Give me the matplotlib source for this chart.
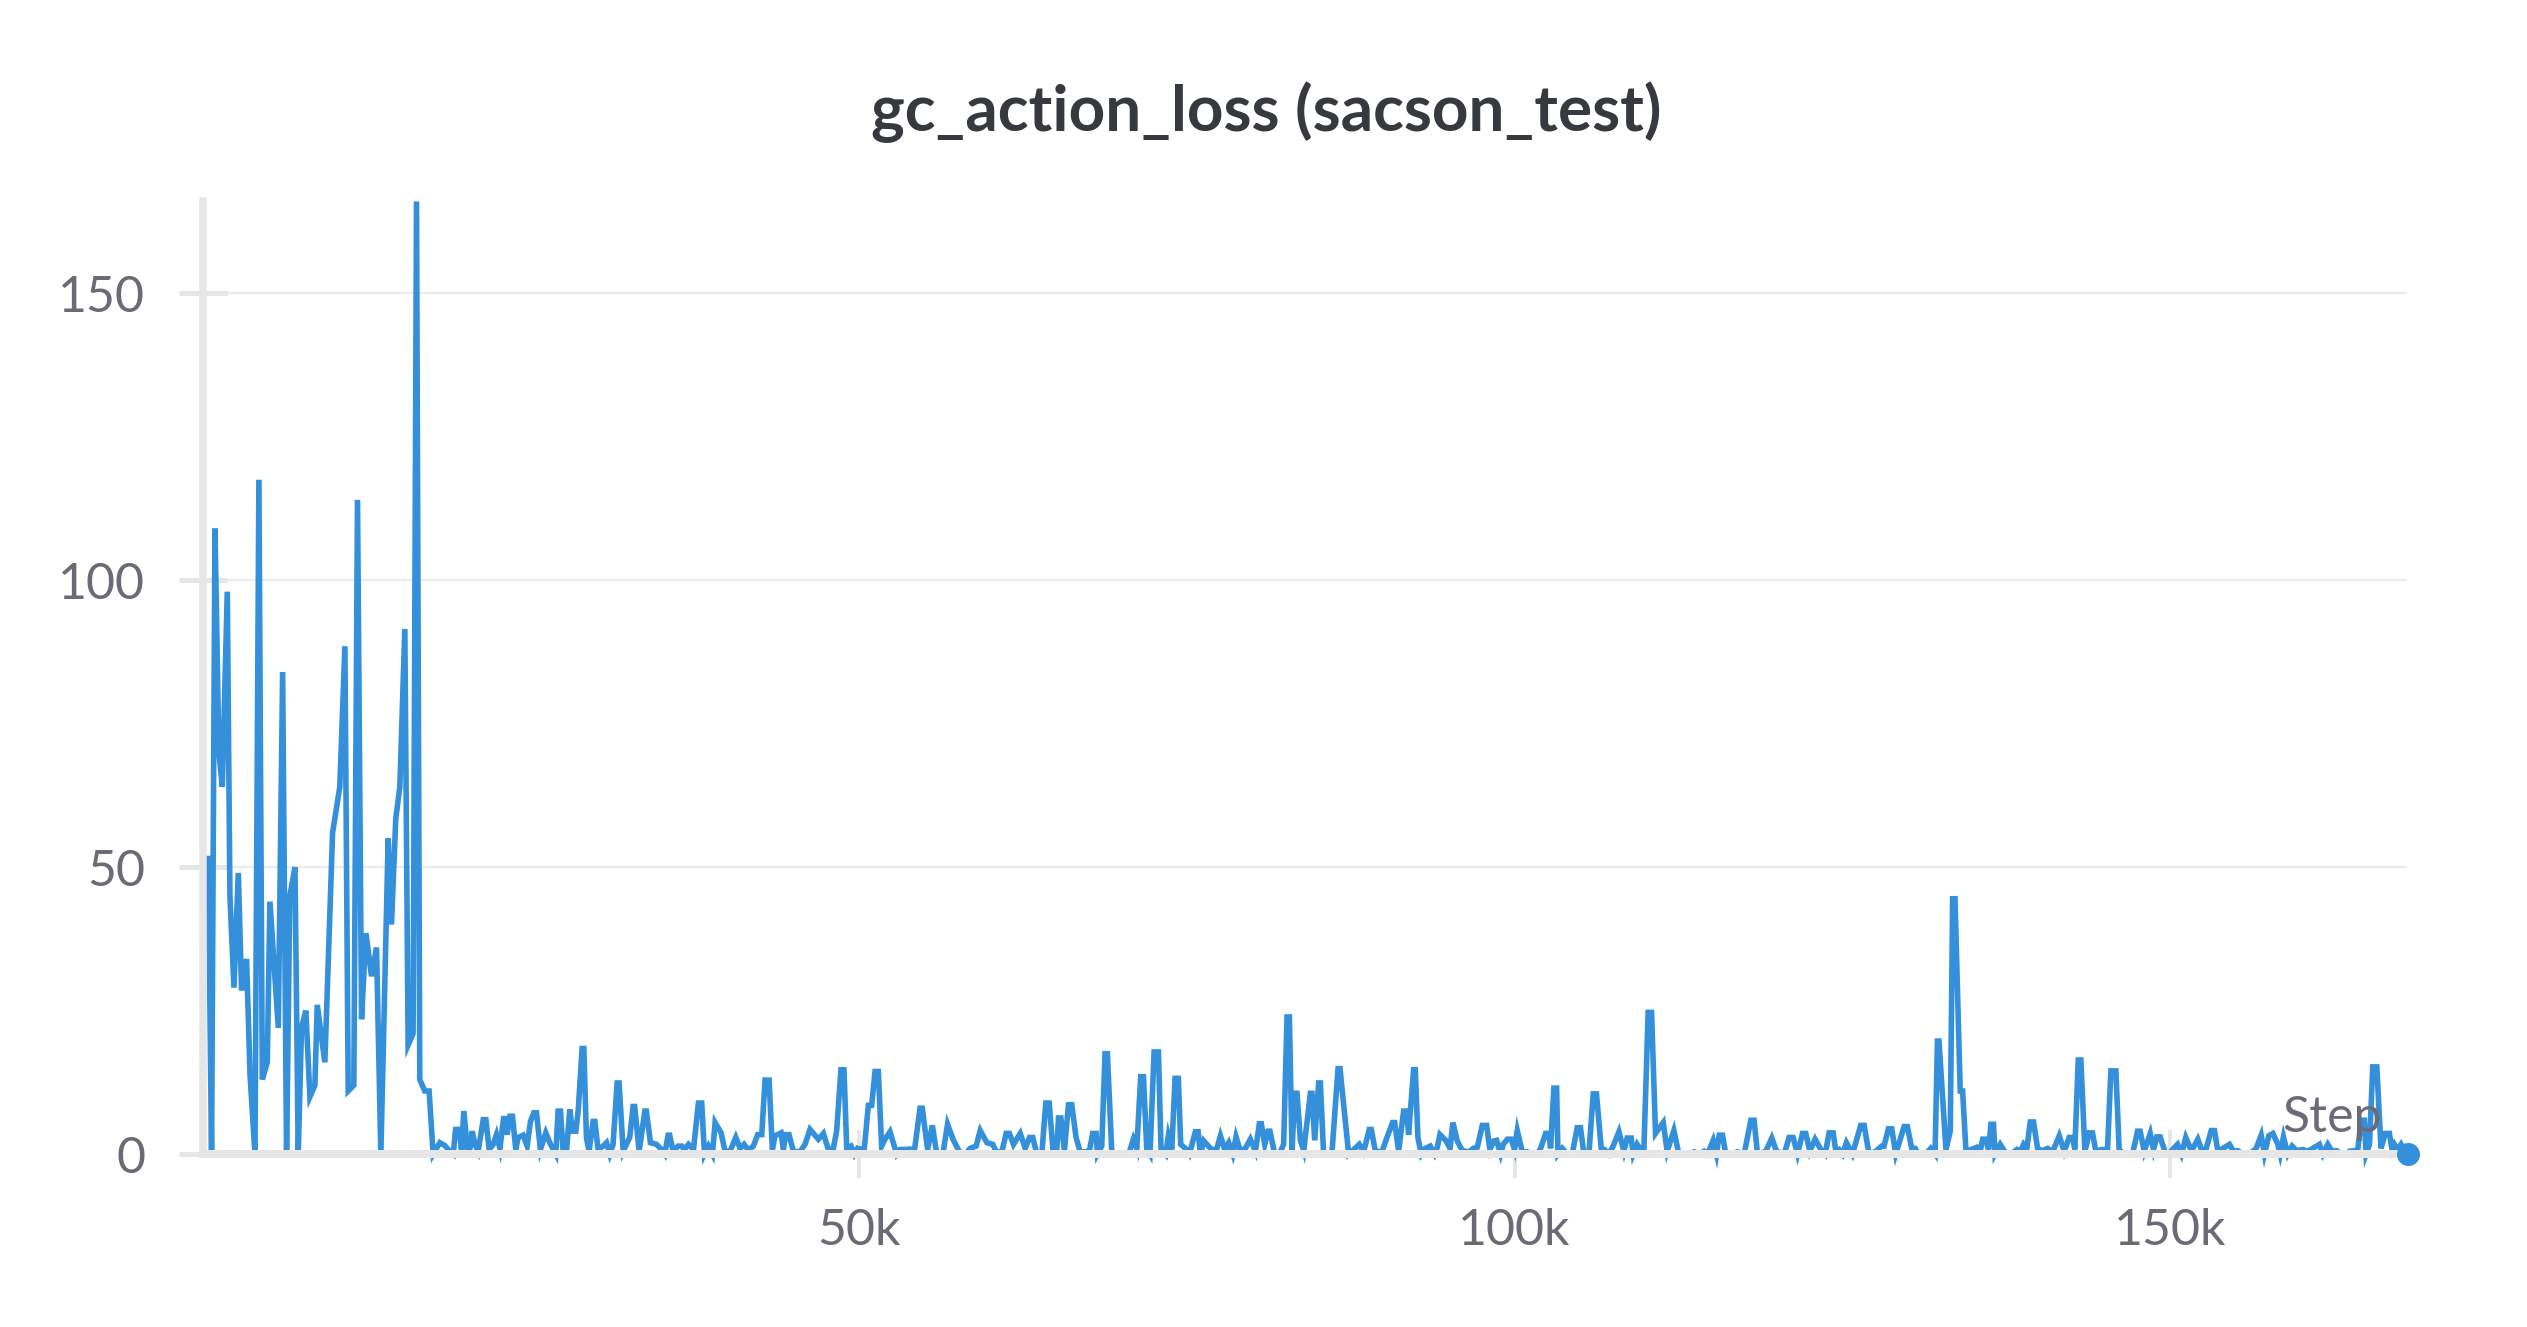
import matplotlib
matplotlib.use("Agg")
import matplotlib.pyplot as plt
from matplotlib.ticker import FuncFormatter, FixedLocator

# ---------------- data (step in thousands, loss value) ----------------
step_k = [
    0.38, 0.63, 0.89, 1.19, 1.45, 1.83, 2.03, 2.34, 2.67, 2.92, 3.30, 3.56, 3.94, 4.24, 4.50,
    4.88, 5.08, 5.72, 6.05, 6.35, 6.60, 6.99, 7.24, 7.49, 7.82, 8.13, 8.51, 8.69, 9.27, 9.86,
    10.41, 10.80, 11.05, 11.48, 11.76, 12.07, 12.40, 12.83, 13.21, 13.54, 14.10, 14.35, 14.68,
    14.99, 15.37, 15.62, 16.00, 16.26, 16.51, 16.89, 17.22, 17.53,
    18.04, 18.42, 18.80, 19.06, 19.24, 19.52, 19.69, 19.87, 20.13, 20.33, 20.51, 20.71, 20.96,
    21.35, 21.55, 21.80, 22.11, 22.36, 22.62, 22.92, 23.17, 23.38, 23.58, 23.83, 24.01, 24.39,
    24.70, 24.95, 25.21, 25.41, 25.71, 26.12, 26.48, 26.88, 27.06, 27.24, 27.44, 27.70, 27.95,
    28.15, 28.41, 28.59, 28.89, 29.02, 29.22, 29.42, 29.73, 29.86, 30.11, 30.49, 30.75, 31.00,
    31.25, 31.56, 31.71, 32.02, 32.52, 32.78, 32.90, 33.24, 33.67, 33.79, 34.10, 34.56, 34.94,
    35.19, 35.45, 35.57, 35.83, 36.21,
    36.49, 36.69, 37.00, 37.38, 37.76, 38.01, 38.22, 38.52, 38.83, 39.03, 39.49, 39.79, 40.17,
    40.61, 40.94, 41.24, 41.57, 41.95, 42.28, 42.59, 42.84, 43.15, 43.40, 43.60, 44.06, 44.24,
    44.42, 44.67, 45.00, 45.51, 45.89, 46.27, 46.91, 47.29, 47.67, 48.05, 48.30, 48.63, 48.86,
    49.07, 49.40, 49.65, 49.90, 50.21, 50.41, 50.72, 50.97, 51.23, 51.48, 51.73, 51.99, 52.37,
    52.88, 53.13, 53.51, 53.89, 54.22, 54.66, 54.83, 55.24, 55.60,
    55.94, 56.40, 56.76, 57.21, 57.67, 58.10, 58.48, 58.94, 59.25, 59.76, 60.21, 60.47, 60.90,
    61.23, 61.48, 61.79, 62.30, 62.68, 63.01, 63.26, 63.57, 63.95, 64.25, 64.51, 64.79, 65.09,
    65.22, 65.40, 65.67, 65.98, 66.23, 66.56, 66.87, 67.25, 67.58, 67.83, 68.09, 68.19, 68.52,
    68.77, 68.95, 69.28, 69.66, 70.17, 70.63, 70.93, 71.19, 71.49, 71.70, 71.95, 72.20, 72.51,
    72.84, 73.04, 73.40, 73.60, 73.86, 74.11, 74.36, 74.54, 74.90,
    75.20, 75.66, 75.87, 76.04, 76.30, 76.81, 77.24, 77.57, 77.90, 78.20, 78.51, 78.76, 79.09,
    79.47, 79.85, 80.24, 80.54, 80.69, 80.95, 81.20, 81.35, 81.71, 82.06, 82.39, 82.65, 82.83,
    83.03, 83.23, 83.41, 83.67, 83.92, 84.43, 84.55, 84.76, 85.06, 85.19, 85.44, 85.82, 86.08,
    86.54, 86.69, 87.04, 87.35, 87.73, 88.16, 88.49, 88.92, 89.08, 89.38, 89.89, 90.27, 90.70,
    90.86, 91.16, 91.54, 91.79, 91.92, 92.30, 92.43, 92.63, 92.89, 93.19, 93.57, 93.90,
    94.11, 94.31, 94.75, 95.08, 95.30, 95.63, 96.02, 96.52, 96.85, 97.16, 97.54, 97.87, 98.12,
    98.43, 98.63, 98.94, 99.14, 99.45, 99.75, 100.00, 100.21, 100.59, 100.97, 101.35, 101.73,
    101.99, 102.37, 102.62, 102.75, 103.00, 103.21, 103.31, 103.64, 104.02, 104.40, 104.78,
    105.03, 105.29, 105.67, 106.00, 106.25, 106.61, 106.86, 107.19, 107.52, 107.96, 108.34,
    108.59, 108.90, 109.05, 109.35, 109.61, 109.86, 110.19, 110.45, 110.75, 111.34, 111.64,
    112.15, 112.53, 112.91,
    113.32, 113.70, 114.08, 114.46, 114.72, 115.15, 115.40, 115.61, 115.86, 116.11, 116.50,
    117.00, 117.51, 118.02, 118.27, 118.53, 119.16, 119.62, 119.98, 120.56, 120.94, 121.25,
    121.58, 121.96, 122.21, 122.52, 122.92, 123.36, 123.69, 123.99, 124.30, 124.50, 124.75,
    125.01, 125.31, 125.77, 126.40, 126.66, 127.04, 127.55, 128.00, 128.18, 128.51, 128.77,
    129.07, 129.71, 129.96, 130.29, 130.55, 130.80, 131.36, 131.74, 132.07, 132.25, 132.37,
    132.90, 133.23, 133.41, 133.59, 133.99, 134.17, 134.43, 134.81, 135.26, 135.52, 135.70,
    135.95, 136.15, 136.33, 136.53, 136.64, 137.04, 137.40, 137.86, 138.31, 138.57, 138.82,
    139.07, 139.33, 139.58, 139.89, 140.27, 140.65, 141.03, 141.54, 141.92, 142.30, 142.56,
    142.73, 142.99, 143.19, 143.50, 143.83, 144.08, 144.33, 144.77, 145.22, 145.48, 145.86,
    146.11, 146.49, 147.13, 147.51, 147.71, 148.02, 148.48, 148.73, 148.98, 149.24, 149.59,
    149.85, 150.18, 150.56, 150.86, 151.19, 151.58,
    151.73, 152.11, 152.44, 152.75, 153.13, 153.38, 153.64, 154.02, 154.52, 154.83, 155.16,
    155.54, 156.05, 156.56, 156.94, 157.19, 157.52, 157.83, 158.21, 158.39, 158.64, 158.97,
    159.30, 159.66, 160.11, 160.50, 160.88, 161.38, 161.64, 162.02, 162.35, 162.71, 163.04,
    163.42, 163.67, 164.05, 164.31, 164.56, 164.81, 164.94, 165.20, 165.45, 165.76, 166.08,
    166.41, 166.72, 166.92, 167.10, 167.35, 167.61, 167.86, 168.12,
]

gc_action_loss = [
    51.5, 0, 109, 70, 64, 98, 45, 29, 49, 28.5, 34, 14, 0, 117.5, 13,
    16, 44, 22, 84, 0, 45, 50, 0, 22, 25, 10, 12, 26, 16, 56,
    64, 88.5, 11, 12, 114, 23.5, 38.5, 31, 36, 0, 55, 40, 58.5,
    64, 91.5, 19, 21, 166, 13, 11, 11, 0,
    2, 1.5, 0.5, 0, 4.3, 4.3, 0.8, 7.5, 1, 1, 4, 1.7, 0.5,
    6, 6, 0.8, 1.7, 3.4, 1, 6.6, 3.4, 6.6, 6.6, 0.8, 2.9, 3.3,
    1.4, 5.7, 7.2, 7.2, 0.8, 3.7, 1.7, 0, 7.5, 7.5, 0.5, 0.5, 7.8,
    4, 4, 7.5, 18.4, 18.4, 2.9, 0.5, 5.7, 5.7, 0.8, 1.4, 2, 0,
    1.7, 12.4, 12.4, 0.5, 2.9, 8.3, 8.3, 0.5, 7.5, 7.5, 2, 1.7, 0.8,
    0, 3.3, 3.3, 0.5, 1.4,
    1.4, 0.8, 1.7, 0.8, 8.9, 8.9, 0, 1.4, 0, 5.5, 3.7, 0.5, 0.5,
    2.9, 1, 1.7, 0.7, 1.4, 3.4, 3.4, 12.9, 12.9, 0.8, 3.2, 3.7, 0.8,
    3.4, 3.4, 0.5, 0.4, 1.7, 4.3, 2.6, 3.6, 0.8, 1, 4, 14.7, 14.7,
    1, 1.4, 0, 1, 0.8, 1, 8.5, 8.5, 14.4, 14.4, 1.4, 2.6, 3.9,
    0, 0.8, 0.8, 0.9, 0.4, 8, 8, 0.8, 5,
    0, 0, 5.2, 2.4, 0.4, 0, 1, 1.4, 4.1, 2, 1.7, 0.4, 0.4,
    3.6, 3.6, 1.7, 3.6, 1, 2.9, 2.9, 0, 0, 8.9, 8.9, 1, 0.5,
    6.3, 6.3, 0.6, 8.6, 8.6, 2.9, 0.4, 0.4, 0.6, 3.6, 3.6, 0, 1.4,
    17.5, 17.5, 0.5, 0, 0, 0.4, 2.6, 1, 13.5, 13.5, 1, 0, 17.8,
    17.8, 1, 0, 3.2, 0.8, 13.2, 13.2, 1.7, 1,
    0, 3.9, 3.9, 0, 2.3, 1, 0.5, 3.2, 0.8, 2, 0, 3, 0.5,
    1, 2.6, 0.5, 5.3, 5.3, 1.7, 4, 4, 0, 0, 1.7, 23.9, 23.9,
    0.4, 10.6, 10.6, 2.4, 0.6, 10.6, 10.6, 2.4, 12.4, 12.4, 0, 0, 0.4,
    14.9, 14.9, 7, 0, 0.8, 1.7, 0.4, 4.3, 4.3, 0.5, 0.4, 2.9, 5.5,
    5.5, 0.5, 7.5, 7.5, 3.4, 14.7, 14.7, 2.9, 0, 1, 1.4, 0,
    1.2, 3.4, 2.4, 1, 5.5, 2.3, 0.6, 0.4, 1, 1.2, 5, 5, 0.8,
    2.3, 2.4, 0, 1.7, 2.6, 2.6, 0.8, 4.1, 0.4, 0.4, 0, 0,
    1, 3.6, 3.6, 1, 11.5, 11.5, 0, 1, 0, 0, 4.6,
    4.6, 0, 0, 10.5, 10.5, 1, 0.8, 0, 1.4, 3.9, 0.5,
    2.8, 2.8, 0, 1.7, 0.8, 0.5, 24.7, 24.7, 3.6, 5.5, 0.5,
    4.1, 0, 0,
    0, 0.4, 0, 0.5, 0, 2.4, 0, 3.3, 3.3, 0, 0,
    0.4, 0, 5.9, 5.9, 0, 0.5, 2.8, 0.5, 0, 2.9, 2.9,
    0, 3.6, 3.6, 0.5, 2.6, 0.8, 0, 3.7, 3.7, 0.5, 0.8,
    0, 2, 0, 5, 5, 0, 0.5, 1.4, 1.4, 4.4, 4.4,
    0, 4.8, 4.8, 1, 1, 0, 0, 1, 0, 19.7, 19.7,
    0.8, 4, 44.5, 44.5, 11, 11, 0.5, 0.8, 1.2, 0.5, 2.6,
    2.6, 0.8, 5.2, 5.2, 0, 1.7, 0.4, 0, 0.8, 0.4, 1.7,
    1, 5.6, 5.6, 1, 0.6, 1, 0.4, 3.2, 0.5, 2.9, 2.9,
    0.8, 16.4, 16.4, 0.5, 3.7, 3.7, 0.5, 0.8, 0.8, 14.5, 14.5,
    0.8, 0, 0, 4, 4, 0.5, 3.6, 0.8, 3, 3, 0.5,
    0, 0.8, 1.7, 0, 2.9, 0.8,
    1, 2.6, 0.5, 1, 4.1, 4.1, 0.5, 1, 1.7, 0.5, 0.6,
    0, 0, 1, 3.3, 0, 3.2, 3.6, 1.7, 0, 3, 0,
    1.4, 0.6, 0.8, 0.5, 1, 1.7, 0, 1.7, 0.5, 0.6, 0,
    0, 0.5, 0.6, 0.8, 5.9, 5.9, 0, 1.7, 15.2, 15.2, 1,
    3.6, 3.6, 0.8, 1.7, 0.8, 1.7, 0.6, 0,
]

y_ticks = [0, 50, 100, 150]
x_ticks_k = [50, 100, 150]
title_text = "gc_action_loss (sacson_test)"
x_label_text = "Step"

steps = [s * 1000 for s in step_k]

# ---------------- styling ----------------
PX = 0.72  # points per pixel at dpi=100
LINE_COLOR = "#3590db"
AXIS_GREY = "#e6e6e6"
GRID_GREY = "#ececec"
TEXT_GREY = "#6b6b77"
TITLE_COLOR = "#363a3e"
FONT = ["Lato", "DejaVu Sans"]
LABEL_PX = 50

plt.rcParams["font.family"] = FONT

fig = plt.figure(figsize=(25.27, 13.27), dpi=100)
ax = fig.add_axes([0.08045, 0.1173, 0.8720, 0.7309])

ax.plot(steps, gc_action_loss, color=LINE_COLOR, lw=5.6 * PX,
        solid_joinstyle="miter", zorder=2)
ax.plot([steps[-1]], [gc_action_loss[-1]], "o", color=LINE_COLOR,
        ms=23 * PX, mew=0, clip_on=False, zorder=4)

ax.set_xlim(0, 168050)
ax.set_ylim(-3, 166)

for side in ("top", "right"):
    ax.spines[side].set_visible(False)
ax.spines["bottom"].set_position(("data", 0))
ax.spines["bottom"].set_color(AXIS_GREY)
ax.spines["bottom"].set_linewidth(8 * PX)
ax.spines["left"].set_color(AXIS_GREY)
ax.spines["left"].set_linewidth(7.5 * PX)
ax.spines["left"].set_bounds(0, 166)

ax.yaxis.set_major_locator(FixedLocator(y_ticks))
ax.xaxis.set_major_locator(FixedLocator([k * 1000 for k in x_ticks_k]))
ax.xaxis.set_major_formatter(FuncFormatter(lambda v, p: f"{int(round(v / 1000))}k"))
ax.yaxis.set_major_formatter(FuncFormatter(lambda v, p: f"{int(v)}"))

ax.tick_params(axis="y", direction="inout", length=48 * PX, width=5 * PX,
               color=AXIS_GREY, pad=34 * PX, labelsize=LABEL_PX * PX,
               labelcolor=TEXT_GREY)
ax.tick_params(axis="x", direction="inout", length=48 * PX, width=4 * PX,
               color=AXIS_GREY, pad=30 * PX, labelsize=LABEL_PX * PX,
               labelcolor=TEXT_GREY)

for yv in y_ticks[1:]:
    ax.axhline(yv, color=GRID_GREY, lw=2.3 * PX, zorder=0.5)

ax.text(0.9885, 0.0406, x_label_text, transform=ax.transAxes,
        ha="right", va="baseline", fontsize=LABEL_PX * PX, color=TEXT_GREY, zorder=5)

fig.text(0.501, 0.901, title_text, ha="center", va="baseline",
         fontsize=46, fontweight="bold", color=TITLE_COLOR)

fig.savefig("out.png", dpi=100, facecolor="white")
